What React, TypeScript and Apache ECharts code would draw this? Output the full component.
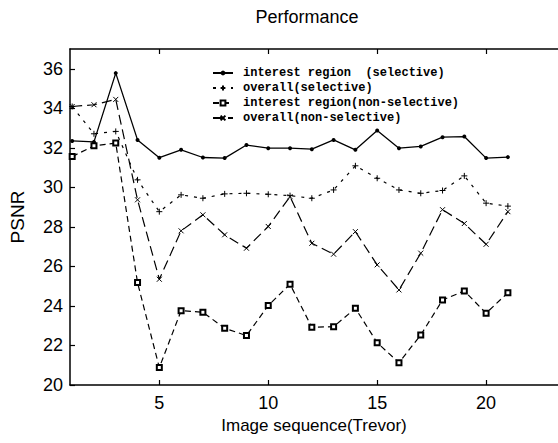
import React, { useEffect, useRef } from 'react';
import * as echarts from 'echarts';

const frames = [1, 2, 3, 4, 5, 6, 7, 8, 9, 10, 11, 12, 13, 14, 15, 16, 17, 18, 19, 20, 21];

const seriesNames = [
  'interest region  (selective)',
  'overall(selective)',
  'interest region(non-selective)',
  'overall(non-selective)',
];

const interestSelective = [32.35, 32.3, 35.78, 32.4, 31.5, 31.9, 31.51, 31.48, 32.14, 31.98, 31.98, 31.93, 32.4, 31.9, 32.88, 31.98, 32.07, 32.54, 32.57, 31.48, 31.53];
const overallSelective = [34.09, 32.71, 32.83, 30.38, 28.77, 29.62, 29.45, 29.67, 29.7, 29.65, 29.58, 29.45, 29.87, 31.09, 30.46, 29.87, 29.7, 29.84, 30.58, 29.2, 29.05];
const interestNonSelective = [31.56, 32.1, 32.24, 25.18, 20.88, 23.76, 23.68, 22.87, 22.5, 24.02, 25.1, 22.92, 22.95, 23.88, 22.14, 21.13, 22.53, 24.3, 24.76, 23.63, 24.67];
const overallNonSelective = [34.09, 34.18, 34.45, 29.37, 25.35, 27.8, 28.61, 27.6, 26.92, 28.02, 29.53, 27.17, 26.62, 27.76, 26.08, 24.81, 26.67, 28.87, 28.17, 27.12, 28.77];

const xTickValues = [5, 10, 15, 20];
const yTickValues = [20, 22, 24, 26, 28, 30, 32, 34, 36];

const titleText = 'Performance';
const xName = 'Image sequence(Trevor)';
const yName = 'PSNR';

export default function App() {
  const ref = useRef<HTMLDivElement>(null);
  useEffect(() => {
    document.body.style.margin = '0';
    const chart = echarts.init(ref.current!, null, { renderer: 'svg' });
    const toPairs = (vals: number[]) => frames.map((f, i) => [f, vals[i]]);
    const font = 'Liberation Sans, Arial, sans-serif';
    const black = '#000';
    const xMin = 0.9;
    const xMax = 23.3;

    const option: any = {
      animation: false,
      backgroundColor: '#fff',
      title: {
        text: titleText,
        left: 307,
        top: 8,
        padding: 0,
        textAlign: 'center',
        textStyle: { fontFamily: font, fontSize: 18, fontWeight: 'normal', color: black },
      },
      legend: {
        orient: 'vertical',
        left: 212,
        top: 67,
        padding: 0,
        itemWidth: 20,
        itemHeight: 6,
        itemGap: 3,
        data: seriesNames,
        textStyle: {
          fontFamily: 'Liberation Mono, monospace',
          fontSize: 12,
          fontWeight: 'bold',
          color: black,
          lineHeight: 12,
          padding: [0, 0, 0, 5],
        },
      },
      grid: { left: 66.5, top: 49, right: -3, bottom: 58 },
      xAxis: [
        {
          type: 'value',
          position: 'bottom',
          min: xMin,
          max: xMax,
          name: xName,
          nameLocation: 'middle',
          nameGap: 31,
          nameTextStyle: { fontFamily: font, fontSize: 17, color: black },
          axisLine: { show: true, onZero: false, lineStyle: { color: black, width: 1.5 } },
          axisTick: { show: true, inside: true, length: 5, customValues: xTickValues, lineStyle: { color: black, width: 1.2 } },
          axisLabel: { customValues: xTickValues, color: black, fontFamily: font, fontSize: 18, margin: 9 },
          splitLine: { show: false },
        },
        {
          type: 'value',
          position: 'top',
          min: xMin,
          max: xMax,
          axisLine: { show: true, onZero: false, lineStyle: { color: black, width: 1.5 } },
          axisTick: { show: true, inside: true, length: 5, customValues: xTickValues, lineStyle: { color: black, width: 1.2 } },
          axisLabel: { show: false },
          splitLine: { show: false },
        },
      ],
      yAxis: [
        {
          type: 'value',
          min: 20,
          max: 37,
          name: yName,
          nameLocation: 'middle',
          nameGap: 43,
          nameRotate: 90,
          nameTextStyle: { fontFamily: font, fontSize: 19, color: black },
          axisLine: { show: true, onZero: false, lineStyle: { color: black, width: 1.5 } },
          axisTick: { show: true, inside: true, length: 5, customValues: yTickValues, lineStyle: { color: black, width: 1.2 } },
          axisLabel: { customValues: yTickValues, color: black, fontFamily: font, fontSize: 18, margin: 7 },
          splitLine: { show: false },
        },
      ],
      series: [
        {
          name: seriesNames[0],
          type: 'line',
          xAxisIndex: 0,
          data: toPairs(interestSelective),
          symbol: 'circle',
          symbolSize: 4,
          itemStyle: { color: black },
          lineStyle: { color: black, width: 1.3, type: 'solid' },
        },
        {
          name: seriesNames[1],
          type: 'line',
          xAxisIndex: 0,
          data: toPairs(overallSelective),
          symbol: 'path://M0,5L10,5M5,0L5,10',
          symbolSize: 6,
          itemStyle: { color: black, borderColor: black, borderWidth: 1 },
          lineStyle: { color: black, width: 1.2, type: [3, 6] },
        },
        {
          name: seriesNames[2],
          type: 'line',
          xAxisIndex: 0,
          data: toPairs(interestNonSelective),
          symbol: 'emptyRect',
          symbolSize: 5,
          itemStyle: { color: black, borderColor: black, borderWidth: 1 },
          lineStyle: { color: black, width: 1.2, type: [6, 4] },
        },
        {
          name: seriesNames[3],
          type: 'line',
          xAxisIndex: 0,
          data: toPairs(overallNonSelective),
          symbol: 'path://M0,0L10,10M10,0L0,10',
          symbolSize: 5,
          itemStyle: { color: black, borderColor: black, borderWidth: 1 },
          lineStyle: { color: black, width: 1.2, type: [10, 5] },
        },
      ],
    };
    chart.setOption(option);
    return () => chart.dispose();
  }, []);
  return <div ref={ref} style={{ width: 558, height: 443 }} />;
}
